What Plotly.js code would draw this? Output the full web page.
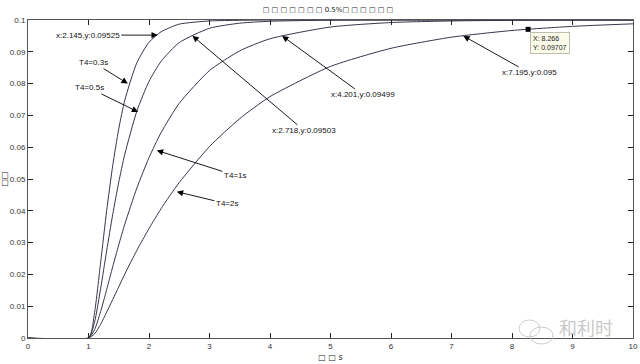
<!DOCTYPE html>
<html>
<head>
<meta charset="utf-8">
<script src="https://cdn.plot.ly/plotly-3.0.1.min.js"></script>
<style>html,body{margin:0;padding:0;background:#fff;}#chart{width:640px;height:364px;}</style>
</head>
<body>
<div id="chart"></div>
<script>
// ---- data ----
var xs = [0, 1, 1.1, 1.2, 1.3, 1.4, 1.5, 1.6, 1.8, 2.0, 2.2, 2.5, 3, 3.5, 4, 5, 6, 7, 8, 9, 10];
var yT03 = [0, 0, 0.0080, 0.0237, 0.0400, 0.0542, 0.0658, 0.0748, 0.0866, 0.0930, 0.0963, 0.0987, 0.0997, 0.0999, 0.1, 0.1, 0.1, 0.1, 0.1, 0.1, 0.1];
var yT05 = [0, 0, 0.0050, 0.0155, 0.0274, 0.0388, 0.0490, 0.0578, 0.0714, 0.0807, 0.0870, 0.0929, 0.0974, 0.0990, 0.0996, 0.09995, 0.1, 0.1, 0.1, 0.1, 0.1];
var yT1  = [0, 0, 0.0026, 0.0083, 0.0152, 0.0224, 0.0293, 0.0358, 0.0472, 0.0567, 0.0646, 0.0738, 0.0841, 0.0903, 0.0941, 0.0978, 0.0992, 0.0997, 0.0999, 0.1, 0.1];
var yT2  = [0, 0, 0.0013, 0.0043, 0.0081, 0.0121, 0.0161, 0.0201, 0.0276, 0.0344, 0.0407, 0.0489, 0.0602, 0.0690, 0.0759, 0.0854, 0.0911, 0.0946, 0.0967, 0.0980, 0.0988];

var xTicks = [0, 1, 2, 3, 4, 5, 6, 7, 8, 9, 10];
var yTicks = [0, 0.01, 0.02, 0.03, 0.04, 0.05, 0.06, 0.07, 0.08, 0.09, 0.1];
var yTickText = ['0', '0.01', '0.02', '0.03', '0.04', '0.05', '0.06', '0.07', '0.08', '0.09', '0.1'];

// annotated points
var settleX = [2.145, 2.718, 4.201, 7.195];
var settleY = [0.09525, 0.09503, 0.09499, 0.095];
var settleText = ['x:2.145,y:0.09525', 'x:2.718,y:0.09503', 'x:4.201,y:0.09499', 'x:7.195,y:0.095'];
var curveLabels = ['T4=0.3s', 'T4=0.5s', 'T4=1s', 'T4=2s'];
var curveLabelX = [1.65, 1.82, 2.13, 2.46];
var curveLabelY = [0.080, 0.0711, 0.0590, 0.0460];
var tipX = [8.266], tipY = [0.09707];

var titleText = '□ □ □ □ □ □ □ 0.5%□ □ □ □ □ □';
var xTitle = '□ □ s';
var yTitle = '□□';
var watermark = '和利时';

// ---- drawing ----
var lineStyle = {color: '#35374a', width: 1, shape: 'spline', smoothing: 0.6};
function tr(y) { return {x: xs, y: y, mode: 'lines', line: lineStyle, hoverinfo: 'none', showlegend: false}; }
var traces = [tr(yT03), tr(yT05), tr(yT1), tr(yT2),
  {x: tipX, y: tipY, mode: 'markers', marker: {symbol: 'square', size: 5, color: '#000'}, showlegend: false}];

var annFont = {family: 'Liberation Sans, Arial', size: 8, color: '#111'};
function arrowAnn(x, y, text, ax, ay) {
  return {x: x, y: y, xref: 'x', yref: 'y', text: text, showarrow: true, ax: ax, ay: ay,
    arrowhead: 2, arrowsize: 1.4, arrowwidth: 0.9, arrowcolor: '#000', font: annFont, standoff: 0};
}
var offs = [[-70, 0], [112, 95], [81, 59], [66, 37]];
var labOffs = [[-34, -21], [-49, -24], [78, 25], [50, 12]];
var anns = [];
for (var i = 0; i < settleX.length; i++) anns.push(arrowAnn(settleX[i], settleY[i], settleText[i], offs[i][0], offs[i][1]));
for (var j = 0; j < curveLabels.length; j++) anns.push(arrowAnn(curveLabelX[j], curveLabelY[j], curveLabels[j], labOffs[j][0], labOffs[j][1]));

// data tip box
anns.push({x: tipX[0], y: tipY[0], xref: 'x', yref: 'y', text: 'X: ' + tipX[0] + '<br>Y: ' + tipY[0],
  showarrow: false, xanchor: 'left', yanchor: 'top', xshift: 2, yshift: -3, align: 'left',
  bgcolor: '#fbfbe9', bordercolor: '#bdbdb0', borderwidth: 1, borderpad: 2,
  font: {family: 'Liberation Sans, Arial', size: 7, color: '#222'}});

// pixel -> paper helpers for decorations
var L = 28, R = 633, T = 20, B = 338;
function px(x) { return (x - L) / (R - L); }
function py(y) { return (B - y) / (B - T); }
anns.push({x: px(586), y: py(327), xref: 'paper', yref: 'paper', xanchor: 'center', yanchor: 'middle',
  text: watermark, showarrow: false,
  font: {family: 'Noto Sans CJK SC', size: 18, color: '#c9c9c9'}});

var shapes = [
  {type: 'circle', xref: 'paper', yref: 'paper', x0: px(519), x1: px(540), y0: py(337), y1: py(320), line: {color: '#cccccc', width: 1}},
  {type: 'circle', xref: 'paper', yref: 'paper', x0: px(530), x1: px(553), y0: py(344), y1: py(327), line: {color: '#cccccc', width: 1}}
];

var axFont = {family: 'Liberation Sans, Arial', size: 8, color: '#333'};
var layout = {
  width: 640, height: 364,
  margin: {l: L, r: 640 - R, t: T, b: 364 - B, pad: 0},
  paper_bgcolor: '#fff', plot_bgcolor: '#fff',
  title: {text: titleText, x: 328 / 640, xanchor: 'center', y: 1 - 10 / 364, yanchor: 'middle',
    font: {family: 'DejaVu Sans', size: 7, color: '#222'}},
  xaxis: {range: [0, 10], tickvals: xTicks, ticks: 'inside', ticklen: 5, tickcolor: '#222', mirror: 'ticks',
    showline: true, linecolor: '#555', linewidth: 1, showgrid: false, zeroline: false, tickfont: axFont,
    title: {text: xTitle, font: {family: 'DejaVu Sans', size: 8, color: '#222'}, standoff: 4}},
  yaxis: {range: [0, 0.1], tickvals: yTicks, ticktext: yTickText, ticks: 'inside', ticklen: 5, tickcolor: '#222', mirror: 'ticks',
    showline: true, linecolor: '#555', linewidth: 1, showgrid: false, zeroline: false, tickfont: axFont,
    title: {text: yTitle, font: {family: 'DejaVu Sans', size: 8, color: '#222'}, standoff: 2}},
  annotations: anns, shapes: shapes, showlegend: false
};
Plotly.newPlot('chart', traces, layout, {displayModeBar: false, staticPlot: true});
</script>
</body>
</html>
